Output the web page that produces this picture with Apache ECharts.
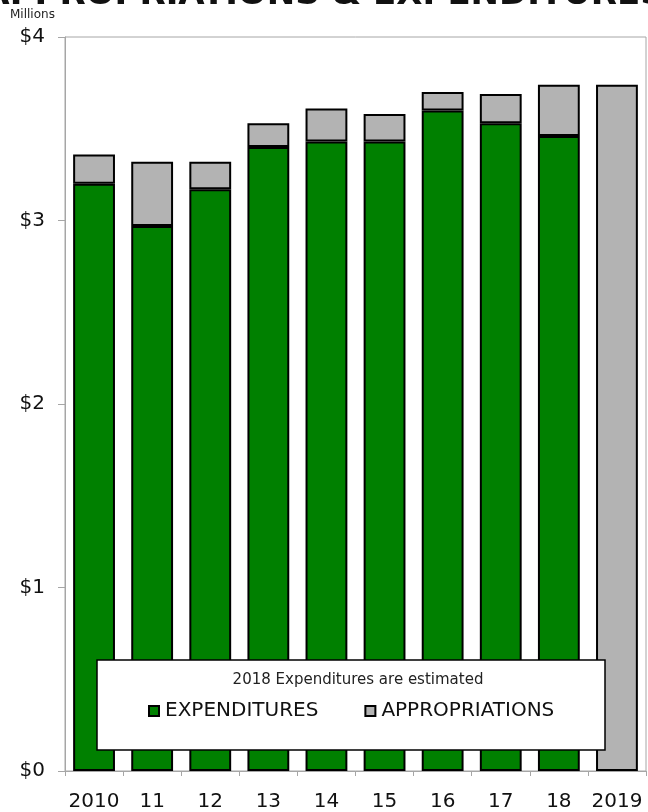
<!DOCTYPE html>
<html>
<head>
<meta charset="utf-8">
<script src="https://cdn.jsdelivr.net/npm/echarts@6/dist/echarts.min.js"></script>
<style>
  html, body { margin: 0; padding: 0; background: #fff; }
  #chart { width: 648px; height: 812px; }
</style>
</head>
<body>
<div id="chart"></div>
<script>
// Fiscal years on the category axis
const years = ['2010', '11', '12', '13', '14', '15', '16', '17', '18', '2019'];
// Total appropriations per year ($ millions)
const appropriations = [3.36, 3.32, 3.32, 3.53, 3.61, 3.58, 3.70, 3.69, 3.74, 3.74];
// Expenditures per year ($ millions); 2019 has none yet
const expenditures = [3.20, 2.97, 3.17, 3.40, 3.43, 3.43, 3.60, 3.53, 3.46, null];
// Value-axis tick labels
const yTicks = ['$0', '$1', '$2', '$3', '$4'];

const FONT = '"DejaVu Sans", Verdana, sans-serif';
const GREEN = '#008000';
const GREY = '#b3b3b3';
const AXIS_GREY = '#a6a6a6';

// The grey segment sits on top of the green one, reaching the appropriation total
const unspent = appropriations.map((a, i) => +(a - (expenditures[i] || 0)).toFixed(2));

const chart = echarts.init(document.getElementById('chart'), null, { renderer: 'canvas' });

chart.setOption({
  animation: false,
  backgroundColor: '#fff',
  grid: {
    left: 65, right: 2, top: 37, bottom: 41,
    show: true, borderColor: AXIS_GREY, borderWidth: 1, backgroundColor: 'transparent'
  },
  graphic: [
    {
      type: 'text', z: 1, x: 324, y: 12,
      style: {
        text: 'APPROPRIATIONS & EXPENDITURES',
        font: 'bold 34px ' + FONT, fill: '#111',
        align: 'center', verticalAlign: 'bottom'
      }
    },
    {
      type: 'text', z: 1, x: 10, y: 15,
      style: { text: 'Millions', font: '12px ' + FONT, fill: '#222', verticalAlign: 'middle' }
    },
    {
      type: 'rect', z: 50,
      shape: { x: 97, y: 660, width: 508, height: 90 },
      style: { fill: '#fff', stroke: '#000', lineWidth: 1.5 }
    },
    {
      type: 'text', z: 51, x: 358, y: 680,
      style: {
        text: '2018 Expenditures are estimated',
        font: '15px ' + FONT, fill: '#222', align: 'center', verticalAlign: 'middle'
      }
    }
  ],
  legend: {
    z: 60,
    left: 143, top: 696,
    itemWidth: 10, itemHeight: 10, itemGap: 46,
    icon: 'rect',
    textStyle: { fontFamily: FONT, fontSize: 20, color: '#111', padding: [0, 0, 0, 1] },
    data: ['EXPENDITURES', 'APPROPRIATIONS']
  },
  xAxis: {
    type: 'category',
    data: years,
    axisLine: { show: true, lineStyle: { color: AXIS_GREY, width: 1 } },
    axisTick: { show: true, length: 5, alignWithLabel: false, lineStyle: { color: AXIS_GREY } },
    axisLabel: { interval: 0, fontFamily: FONT, fontSize: 20, color: '#111', margin: 21 }
  },
  yAxis: {
    type: 'value',
    min: 0, max: 4, interval: 1,
    splitLine: { show: false },
    axisLine: { show: true, lineStyle: { color: AXIS_GREY, width: 1 } },
    axisTick: { show: true, length: 7, lineStyle: { color: AXIS_GREY } },
    axisLabel: {
      fontFamily: FONT, fontSize: 20, color: '#111', margin: 20,
      formatter: v => yTicks[v]
    }
  },
  series: [
    {
      name: 'EXPENDITURES',
      type: 'bar',
      stack: 'total',
      barWidth: '72%',
      data: expenditures,
      itemStyle: { color: GREEN, borderColor: '#000', borderWidth: 2 }
    },
    {
      name: 'APPROPRIATIONS',
      type: 'bar',
      stack: 'total',
      barWidth: '72%',
      data: unspent,
      itemStyle: { color: GREY, borderColor: '#000', borderWidth: 2 }
    }
  ]
});
</script>
</body>
</html>
